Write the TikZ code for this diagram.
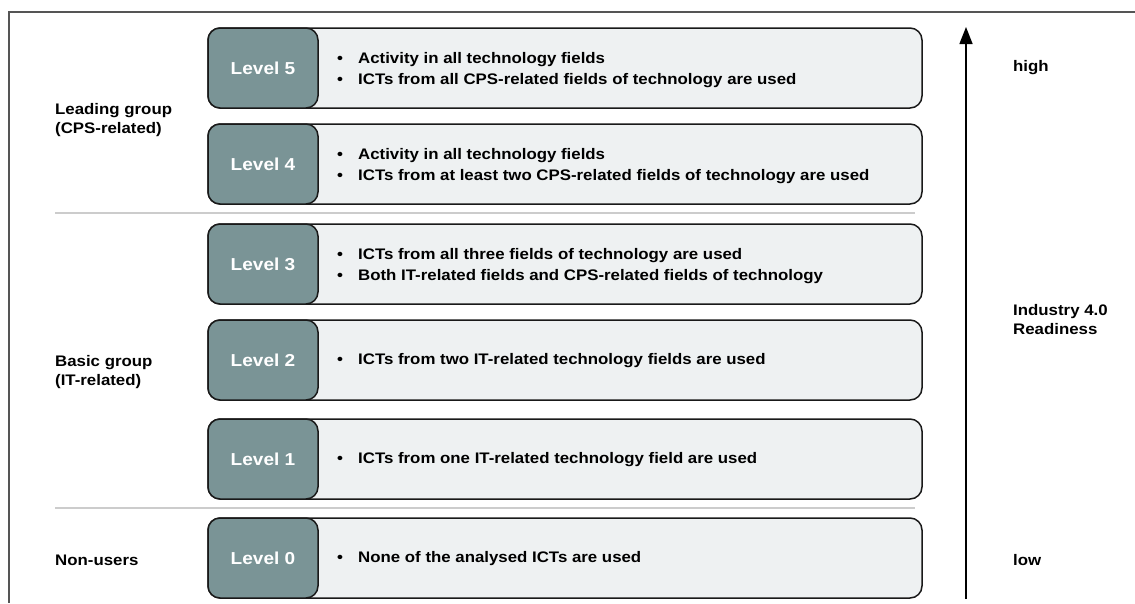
\documentclass[tikz,border=0pt]{standalone}
\usepackage{fontspec}
\setmainfont{Liberation Sans}[FakeStretch=1.1]
\usetikzlibrary{arrows.meta}
\definecolor{darkfill}{HTML}{7A9496}
\definecolor{lightfill}{HTML}{EEF1F2}
\definecolor{sepgray}{HTML}{CCCCCC}
\definecolor{framegray}{HTML}{555555}
\tikzset{
  outerbox/.style={draw=black!90, line width=1.5pt, fill=lightfill, rounded corners=12pt},
  levelbox/.style={draw=black!90, line width=1.5pt, fill=darkfill, rounded corners=12pt, minimum width=110pt, minimum height=80pt, inner sep=0pt, text=white, font=\fontsize{17.3}{20}\selectfont\bfseries},
  bodytext/.style={anchor=west, align=left, inner sep=0pt, font=\fontsize{15.3}{21.5}\selectfont\bfseries},
  sidelabel/.style={anchor=west, align=left, inner sep=0pt, font=\fontsize{15.3}{19}\selectfont\bfseries},
  sepline/.style={draw=sepgray, line width=2pt},
  framel/.style={draw=framegray, line width=1.5pt},
}
\newcommand{\bl}{\makebox[21pt][l]{\textbullet}}
\begin{document}
\begin{tikzpicture}[x=1pt,y=-1pt]
\useasboundingbox (0,0) rectangle (1135,603);
% frame
\draw[framel] (1135,12) -- (9,12) -- (9,603);
% separators
\draw[sepline] (55,213) -- (915,213);
\draw[sepline] (55,508) -- (915,508);
% boxes
\foreach \n/\yc in {5/68,4/164,3/264,2/360,1/459,0/558}{
  \draw[outerbox] (208,\yc-40) rectangle (922,\yc+40);
  \node[levelbox] (d\n) at (263,\yc) {Level \n};
}
\node[bodytext] (t5) at (337,70) {\bl Activity in all technology fields\\\bl ICTs from all CPS-related fields of technology are used};
\node[bodytext] (t4) at (337,166) {\bl Activity in all technology fields\\\bl ICTs from at least two CPS-related fields of technology are used};
\node[bodytext] (t3) at (337,266) {\bl ICTs from all three fields of technology are used\\\bl Both IT-related fields and CPS-related fields of technology};
\node[bodytext] (t2) at (337,361) {\bl ICTs from two IT-related technology fields are used};
\node[bodytext] (t1) at (337,460) {\bl ICTs from one IT-related technology field are used};
\node[bodytext] (t0) at (337,559) {\bl None of the analysed ICTs are used};
% left labels
\node[sidelabel] (lead) at (55,120) {Leading group\\(CPS-related)};
\node[sidelabel] (basic) at (55,372) {Basic group\\(IT-related)};
\node[sidelabel] (non) at (55,560) {Non-users};
% arrow
\coordinate (abot) at (966,599);
\coordinate (atop) at (966,27);
\draw[line width=1.5pt, -{Triangle[width=13pt,length=17pt]}] (abot) -- (atop);
% right labels
\node[sidelabel] (high) at (1013,68) {high};
\node[sidelabel] (ind) at (1013,320) {Industry 4.0\\Readiness};
\node[sidelabel] (low) at (1013,560) {low};
\end{tikzpicture}
\end{document}
